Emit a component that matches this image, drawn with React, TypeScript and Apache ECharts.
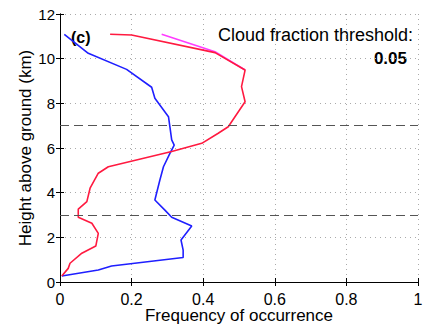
import React, { useEffect, useRef } from "react";
import * as echarts from "echarts";

// Height above ground (km)
const blueHeights = [11.09, 10.24, 9.52, 8.72, 8.23, 7.4, 6.95, 6.36, 6.13, 5.76, 5.16, 4.57, 3.67, 3.22, 2.9, 2.51, 1.88, 1.43, 1.1, 0.72, 0.54, 0.27];
const blueFreq = [0.012, 0.079, 0.186, 0.256, 0.265, 0.303, 0.307, 0.312, 0.319, 0.307, 0.289, 0.279, 0.265, 0.293, 0.312, 0.368, 0.338, 0.344, 0.344, 0.144, 0.107, 0.005];

const redHeights = [11.09, 11.06, 10.27, 9.49, 8.75, 8.07, 6.95, 6.66, 6.21, 5.84, 5.16, 4.87, 4.2, 3.6, 3.26, 2.9, 2.63, 2.18, 1.61, 1.29, 0.84, 0.61, 0.27];
const redFreq = [0.14, 0.2, 0.433, 0.517, 0.507, 0.517, 0.47, 0.442, 0.396, 0.312, 0.135, 0.107, 0.084, 0.075, 0.051, 0.051, 0.089, 0.107, 0.1, 0.061, 0.028, 0.023, 0.005];

const magentaHeights = [11.09, 10.31, 9.49];
const magentaFreq = [0.284, 0.433, 0.517];

const dashedLevels = [7, 3];
const xTicks = [0, 0.2, 0.4, 0.6, 0.8, 1];
const yTicks = [0, 2, 4, 6, 8, 10, 12];

const FONT = "Liberation Sans, Arial, Helvetica, sans-serif";

function pairs(xs: number[], ys: number[]) {
  return xs.map((x, i) => [x, ys[i]]);
}

export default function App() {
  const ref = useRef<HTMLDivElement>(null);
  useEffect(() => {
    if (!ref.current) return;
    const chart = echarts.init(ref.current, undefined, { renderer: "svg" });
    const axisLine = { show: true, lineStyle: { color: "#000", width: 1 } };
    const tick = { show: true, inside: true, length: 4, lineStyle: { color: "#000" } };
    chart.setOption({
      animation: false,
      backgroundColor: "#fff",
      grid: { left: 60, right: 12, top: 14, bottom: 44, outerBoundsMode: "none", containLabel: false },
      xAxis: [
        {
          type: "value", min: 0, max: 1, interval: 0.2,
          axisLine, axisTick: tick,
          axisLabel: { color: "#000", fontSize: 16, fontFamily: FONT, margin: 9, formatter: (v: number) => xTicks.includes(v) ? String(v) : "" },
          splitLine: { show: true, lineStyle: { type: [1, 4], color: "#aaa", width: 1 } },
          name: "Frequency of occurrence", nameLocation: "middle", nameGap: 25, nameMoveOverlap: false,
          nameTextStyle: { color: "#000", fontSize: 17, fontFamily: FONT },
        },
        {
          type: "value", min: 0, max: 1, interval: 0.2, position: "top",
          axisLine, axisTick: tick, axisLabel: { show: false }, splitLine: { show: false },
        },
      ],
      yAxis: [
        {
          type: "value", min: 0, max: 12, interval: 2,
          axisLine, axisTick: tick,
          axisLabel: { color: "#000", fontSize: 15, fontFamily: FONT, margin: 5, formatter: (v: number) => yTicks.includes(v) ? String(v) : "" },
          splitLine: { show: true, lineStyle: { type: [1, 4], color: "#aaa", width: 1 } },
          name: "Height above ground (km)", nameLocation: "middle", nameGap: 26, nameMoveOverlap: false,
          nameTextStyle: { color: "#000", fontSize: 17, fontFamily: FONT },
        },
        {
          type: "value", min: 0, max: 12, interval: 2, position: "right",
          axisLine, axisTick: tick, axisLabel: { show: false }, splitLine: { show: false },
        },
      ],
      series: [
        {
          type: "line", data: pairs(magentaFreq, magentaHeights), symbol: "none",
          lineStyle: { color: "#ff3cff", width: 1.6 }, z: 2,
        },
        {
          type: "line", data: pairs(blueFreq, blueHeights), symbol: "none",
          lineStyle: { color: "#1f1fff", width: 1.6 }, z: 3,
          markLine: {
            silent: true, symbol: "none", label: { show: false },
            lineStyle: { type: [9, 5], color: "#555", width: 1.2 },
            data: dashedLevels.map((v) => ({ yAxis: v })),
          },
        },
        {
          type: "line", data: pairs(redFreq, redHeights), symbol: "none",
          lineStyle: { color: "#ff1a40", width: 1.6 }, z: 4,
        },
      ],
      graphic: [
        { type: "text", left: 71, top: 29, style: { text: "(c)", font: `bold 16px ${FONT}`, fill: "#000" } },
        { type: "text", right: 17, top: 26, style: { text: "Cloud fraction threshold:", font: `18px ${FONT}`, fill: "#000" } },
        { type: "text", right: 23, top: 50, style: { text: "0.05", font: `bold 17px ${FONT}`, fill: "#000" } },
      ],
    });
    return () => chart.dispose();
  }, []);
  return <div ref={ref} style={{ position: "fixed", left: 0, top: 0, width: 430, height: 326 }} />;
}
